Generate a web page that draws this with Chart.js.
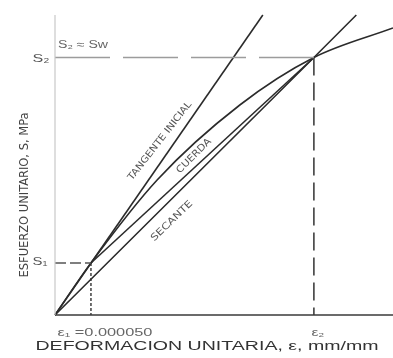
<!DOCTYPE html>
<html>
<head>
<meta charset="utf-8">
<script src="https://cdn.jsdelivr.net/npm/chart.js@4.4.1/dist/chart.umd.min.js"></script>
<style>
  html, body { margin: 0; padding: 0; background: #fff; }
  #wrap { width: 393px; height: 358px; }
</style>
</head>
<body>
<div id="wrap"><canvas id="my-canvas"></canvas></div>
<script>
// ejes (deformación en micro-mm/mm, esfuerzo en MPa, escala relativa)
const X_MAX = 470;
const Y_MAX = 12;

const E1 = 50;
const E2 = 360;
const S1 = 2.08;
const S2 = 10.3;

// curva esfuerzo-deformación
const CURVE_X = [0, 50, 142, 257, 360, 470];
const CURVE_Y = [0, 2.08, 5.4, 8.4, 10.3, 11.48];

// tangente inicial
const TANGENT_X = [0, 289];
const TANGENT_Y = [0, 12];

// secante (origen -> S2, prolongada)
const SECANT_X = [0, 360, 419];
const SECANT_Y = [0, 10.3, 12];

// cuerda (S1 -> S2)
const CHORD_X = [50, 360];
const CHORD_Y = [2.08, 10.3];

const X_TICK_LABELS = ['ε₁ =0.000050', 'ε₂'];
const Y_TICK_LABELS = ['S₁', 'S₂'];
const NOTE = 'S₂ ≈ Sw';
const X_TITLE = 'DEFORMACION UNITARIA, ε, mm/mm';
const Y_TITLE = 'ESFUERZO UNITARIO, S, MPa';
const LINE_LABELS = ['TANGENTE INICIAL', 'CUERDA', 'SECANTE'];

const NARROW = "'Liberation Sans Narrow', 'DejaVu Sans Condensed', 'Liberation Sans', sans-serif";
const WIDE = "'Liberation Sans', 'DejaVu Sans', sans-serif";

const toPoints = (xs, ys) => xs.map((x, i) => ({ x, y: ys[i] }));

function fitText(ctx, text, x, y, width, size, family, color, angle) {
  ctx.save();
  ctx.translate(x, y);
  ctx.rotate(angle || 0);
  ctx.font = `${size}px ${family}`;
  ctx.textAlign = 'center';
  ctx.textBaseline = 'middle';
  const w = ctx.measureText(text).width;
  ctx.scale(width / w, 1);
  ctx.fillStyle = color;
  ctx.fillText(text, 0, 0);
  ctx.restore();
}

const textPlugin = {
  id: 'texts',
  afterDraw(chart) {
    const ctx = chart.ctx;
    const xs = chart.scales.x;
    const ys = chart.scales.y;
    const deg = Math.PI / 180;

    // etiquetas de ejes
    fitText(ctx, X_TICK_LABELS[0], xs.getPixelForValue(E1) + 14, 333, 95, 10, WIDE, '#666');
    fitText(ctx, X_TICK_LABELS[1], xs.getPixelForValue(E2) + 4, 333, 13, 10, WIDE, '#666');
    fitText(ctx, Y_TICK_LABELS[0], 40, ys.getPixelForValue(S1) - 1, 15, 11, WIDE, '#555');
    fitText(ctx, Y_TICK_LABELS[1], 41, ys.getPixelForValue(S2) + 1, 17, 11, WIDE, '#555');
    fitText(ctx, NOTE, 83, 45, 50, 10, WIDE, '#666');

    fitText(ctx, X_TITLE, 207, 347, 343, 12.5, WIDE, '#333');
    fitText(ctx, Y_TITLE, 25, 195, 165, 12, NARROW, '#444', -90 * deg);

    // rotulos de las rectas
    fitText(ctx, LINE_LABELS[0], 160, 141, 97, 9.5, NARROW, '#555', -52 * deg);
    fitText(ctx, LINE_LABELS[1], 194, 156, 45, 9.5, NARROW, '#555', -45 * deg);
    fitText(ctx, LINE_LABELS[2], 172, 221, 54, 9.5, NARROW, '#555', -44 * deg);
  },
};

document.addEventListener('DOMContentLoaded', function () {
  const solid = {
    pointRadius: 0,
    borderWidth: 1.6,
    borderColor: '#2b2b2b',
    fill: false,
    clip: false,
  };

  const data = {
    datasets: [
      // ejes
      { ...solid, data: toPoints([0, 0], [0, Y_MAX]), borderColor: '#c8c8c8', borderWidth: 1.2 },
      { ...solid, data: toPoints([0, X_MAX], [0, 0]), borderColor: '#3a3a3a', borderWidth: 1.5 },
      // lineas de referencia
      { ...solid, data: toPoints([0, E2], [S2, S2]), borderColor: '#9c9c9c', borderWidth: 1.5, borderDash: [55, 13] },
      { ...solid, data: toPoints([E2, E2], [S2, 0]), borderColor: '#333', borderWidth: 1.5, borderDash: [18, 7] },
      { ...solid, data: toPoints([0, E1], [S1, S1]), borderColor: '#555', borderWidth: 1.4, borderDash: [11, 4] },
      { ...solid, data: toPoints([E1, E1], [S1, 0]), borderColor: '#333', borderWidth: 1.4, borderDash: [3, 2] },
      // rectas y curva
      { ...solid, data: toPoints(TANGENT_X, TANGENT_Y) },
      { ...solid, data: toPoints(SECANT_X, SECANT_Y) },
      { ...solid, data: toPoints(CHORD_X, CHORD_Y) },
      { ...solid, data: toPoints(CURVE_X, CURVE_Y), cubicInterpolationMode: 'monotone' },
    ],
  };

  const config = {
    type: 'line',
    data: data,
    plugins: [textPlugin],
    options: {
      responsive: true,
      maintainAspectRatio: false,
      animation: false,
      layout: {
        padding: { left: 55, right: 0, top: 15, bottom: 43 },
      },
      plugins: {
        legend: { display: false },
        tooltip: { enabled: false },
      },
      scales: {
        x: { type: 'linear', min: 0, max: X_MAX, display: false },
        y: { type: 'linear', min: 0, max: Y_MAX, display: false },
      },
    },
  };

  new Chart('my-canvas', config);
});
</script>
</body>
</html>
